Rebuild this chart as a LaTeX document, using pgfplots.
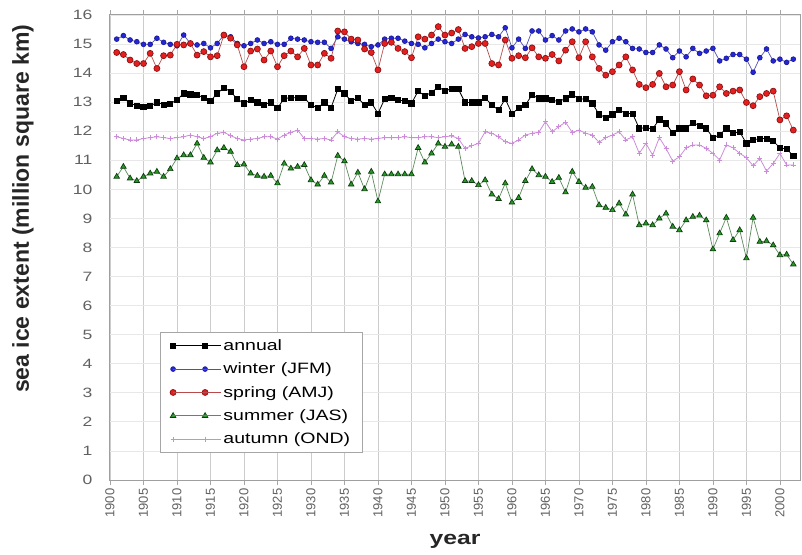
\documentclass[border=0pt]{standalone}
\usepackage{fontspec}
\setmainfont{Liberation Sans}
\newfontfamily\widefont{Liberation Sans}[FakeStretch=1.3]
\usepackage{pgfplots}
\usepackage{pgfplotstable}
\pgfplotsset{compat=1.18}
\definecolor{wintc}{rgb}{0.15,0.15,0.85}
\definecolor{sprc}{rgb}{0.90,0.12,0.12}
\definecolor{sumc}{rgb}{0.15,0.60,0.15}
\definecolor{autc}{rgb}{0.80,0.55,0.85}
\definecolor{tickc}{rgb}{0.38,0.38,0.38}

% Arctic sea ice extent, million square km
\pgfplotstableread{
year annual winter spring summer autumn
1901 13.04 15.17 14.71 10.44 11.81
1902 13.15 15.29 14.64 10.78 11.75
1903 12.96 15.14 14.45 10.38 11.70
1904 12.88 15.08 14.33 10.29 11.70
1905 12.84 14.99 14.33 10.44 11.75
1906 12.87 14.99 14.68 10.55 11.78
1907 12.99 15.20 14.16 10.61 11.81
1908 12.92 15.06 14.60 10.44 11.78
1909 12.95 14.99 14.62 10.70 11.75
1910 13.08 14.94 14.99 11.07 11.78
1911 13.30 15.31 14.97 11.18 11.81
1912 13.27 15.02 15.02 11.18 11.87
1913 13.25 14.97 14.62 11.58 11.81
1914 13.15 15.02 14.74 11.09 11.75
1915 13.04 14.87 14.56 10.93 11.81
1916 13.30 15.02 14.60 11.35 11.93
1917 13.50 15.31 15.31 11.43 11.96
1918 13.36 15.25 15.20 11.30 11.85
1919 13.11 15.02 14.97 10.84 11.75
1920 12.96 14.94 14.22 10.86 11.70
1921 13.07 15.02 14.76 10.55 11.73
1922 12.99 15.14 14.83 10.47 11.75
1923 12.92 15.02 14.45 10.44 11.81
1924 12.99 15.08 14.76 10.47 11.81
1925 12.79 14.99 14.22 10.21 11.73
1926 13.13 14.99 14.60 10.89 11.87
1927 13.15 15.20 14.76 10.72 11.96
1928 13.15 15.17 14.56 10.78 12.04
1929 13.15 15.14 14.85 10.84 11.75
1930 12.90 15.08 14.28 10.32 11.75
1931 12.81 15.06 14.28 10.17 11.73
1932 12.99 15.06 14.68 10.47 11.75
1933 12.81 14.85 14.51 10.24 11.70
1934 13.45 15.25 15.45 11.16 11.98
1935 13.30 15.17 15.42 10.97 11.81
1936 13.04 15.08 15.17 10.17 11.75
1937 13.15 15.02 15.14 10.58 11.73
1938 12.90 14.99 14.83 10.01 11.75
1939 12.99 14.91 14.71 10.61 11.73
1940 12.61 14.97 14.11 9.59 11.75
1941 13.11 15.17 15.02 10.52 11.78
1942 13.15 15.20 15.06 10.52 11.78
1943 13.07 15.20 14.85 10.52 11.78
1944 13.04 15.10 14.74 10.52 11.81
1945 12.96 15.02 14.53 10.52 11.78
1946 13.38 14.99 15.25 11.43 11.78
1947 13.22 14.87 15.17 10.93 11.81
1948 13.33 15.02 15.31 11.24 11.81
1949 13.53 15.17 15.60 11.58 11.78
1950 13.38 15.08 15.31 11.47 11.81
1951 13.47 15.02 15.38 11.55 11.84
1952 13.45 15.17 15.50 11.47 11.75
1953 12.99 15.33 14.85 10.29 11.41
1954 12.99 15.25 14.91 10.29 11.50
1955 12.99 15.21 15.02 10.15 11.58
1956 13.15 15.25 15.02 10.32 11.98
1957 12.90 15.33 14.33 9.83 11.93
1958 12.73 15.25 14.28 9.67 11.81
1959 13.11 15.56 15.14 10.21 11.64
1960 12.61 14.87 14.51 9.55 11.58
1961 12.79 15.17 14.60 9.71 11.70
1962 12.90 14.85 14.53 10.29 11.87
1963 13.25 15.45 14.87 10.70 11.93
1964 13.13 15.45 14.56 10.49 11.96
1965 13.13 15.14 14.51 10.44 12.33
1966 13.07 15.29 14.64 10.26 11.98
1967 13.02 15.14 14.42 10.40 12.16
1968 13.13 15.45 14.79 9.90 12.31
1969 13.27 15.52 15.08 10.61 11.96
1970 13.11 15.42 14.53 10.26 12.04
1971 13.11 15.52 15.08 10.06 11.93
1972 12.96 15.42 14.56 10.09 11.87
1973 12.58 14.97 14.16 9.46 11.62
1974 12.47 14.79 13.93 9.37 11.78
1975 12.58 15.08 14.05 9.29 11.87
1976 12.73 15.20 14.28 9.52 11.98
1977 12.61 15.08 14.56 9.14 11.70
1978 12.61 14.85 14.11 9.83 11.81
1979 12.10 14.83 13.61 8.77 11.24
1980 12.12 14.71 13.50 8.83 11.58
1981 12.08 14.71 13.61 8.77 11.18
1982 12.41 14.97 13.99 9.00 11.78
1983 12.27 14.83 13.53 9.17 11.41
1984 11.93 14.53 13.59 8.72 10.97
1985 12.10 14.76 14.05 8.60 11.12
1986 12.10 14.56 13.42 8.94 11.43
1987 12.30 14.85 13.80 9.06 11.53
1988 12.19 14.68 13.59 9.10 11.53
1989 12.10 14.76 13.22 8.94 11.41
1990 11.78 14.85 13.24 7.94 11.24
1991 11.87 14.42 13.53 8.49 11.01
1992 12.10 14.51 13.30 9.03 11.53
1993 11.93 14.64 13.38 8.26 11.43
1994 11.98 14.64 13.42 8.60 11.24
1995 11.58 14.48 12.99 7.63 11.09
1996 11.70 14.03 12.88 9.03 10.81
1997 11.75 14.53 13.19 8.20 11.07
1998 11.75 14.83 13.30 8.22 10.63
1999 11.66 14.42 13.38 8.08 10.89
2000 11.43 14.48 12.39 7.74 11.24
2001 11.39 14.37 12.53 7.76 10.84
2002 11.16 14.48 12.04 7.42 10.84
}\icedata

\begin{document}
\begin{tikzpicture}
\begin{axis}[
    scale only axis,
    width=690pt,
    height=465pt,
    xmin=1900, xmax=2003,
    ymin=0, ymax=16,
    xtick={1900,1905,...,2000},
    ytick={0,1,...,16},
    /pgf/number format/assume math mode=true,
    /pgf/number format/1000 sep={},
    x tick label style={rotate=90, anchor=east, font=\fontsize{13}{13}\selectfont, text=tickc},
    y tick label style={font=\widefont\fontsize{13.5}{13.5}\selectfont, text=tickc, xshift=-9pt},
    tick align=outside,
    xtick style={gray!70, line width=0.6pt},
    ytick style={draw=none},
    major tick length=5pt,
    xmajorgrids, ymajorgrids,
    x grid style={gray!40, line width=0.8pt},
    y grid style={gray!18, line width=0.8pt},
    axis line style={gray!75, line width=1pt},
    xlabel={year},
    xlabel style={font=\widefont\fontsize{19}{19}\selectfont\bfseries, text=black!85, yshift=-10pt},
    ylabel={sea ice extent (million square km)},
    ylabel style={font=\fontsize{23}{23}\selectfont\bfseries, text=black!85,
        at={(axis description cs:-0.126,0.583)}, anchor=center},
    legend style={at={(rel axis cs:0.072,0.318)}, anchor=north west,
        draw=gray!70, line width=0.8pt, font=\widefont\fontsize{15}{15}\selectfont,
        inner xsep=10pt, inner ysep=5pt, row sep=7pt},
    legend cell align=left,
    legend image code/.code={
      \draw[#1] plot coordinates {(0pt,0pt) (32pt,0pt)};
      \path (0pt,0pt) -- (48pt,0pt);
    },
]
\addplot[black, line width=0.8pt, mark=square*, mark size=2.6pt,
    mark options={fill=black}] table[x=year, y=annual] {\icedata};
\addplot[wintc!55!gray, line width=0.7pt, mark=*, mark size=2.4pt,
    mark options={fill=wintc, draw=wintc!70!black}] table[x=year, y=winter] {\icedata};
\addplot[sprc!55!gray, line width=0.7pt, mark=*, mark size=3pt,
    mark options={fill=sprc, draw=sprc!60!black}] table[x=year, y=spring] {\icedata};
\addplot[sumc!40!gray, line width=0.7pt, mark=triangle*, mark size=3.2pt,
    mark options={fill=sumc, draw=sumc!40!black}] table[x=year, y=summer] {\icedata};
\addplot[autc, line width=0.8pt, mark=+, mark size=2.5pt,
    mark options={draw=autc}] table[x=year, y=autumn] {\icedata};
\legend{annual, winter (JFM), spring (AMJ), summer (JAS), autumn (OND)}
\end{axis}
\pgfresetboundingbox
\path[use as bounding box] ([xshift=-110pt,yshift=-74pt]current axis.south west)
    rectangle ([xshift=2pt,yshift=15pt]current axis.north east);
\end{tikzpicture}
\end{document}
